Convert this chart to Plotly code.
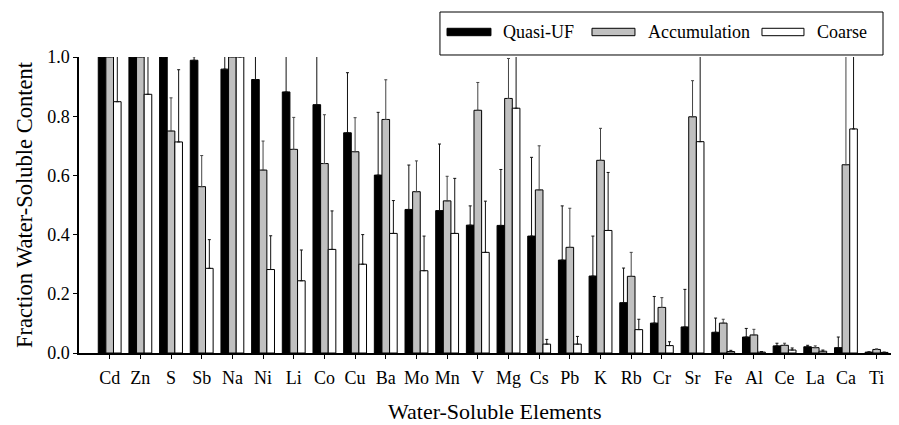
import plotly.graph_objects as go

elements = ["Cd", "Zn", "S", "Sb", "Na", "Ni", "Li", "Co", "Cu", "Ba", "Mo", "Mn", "V",
            "Mg", "Cs", "Pb", "K", "Rb", "Cr", "Sr", "Fe", "Al", "Ce", "La", "Ca", "Ti"]

quasi_uf = [1.00, 1.00, 1.00, 0.989, 0.959, 0.924, 0.882, 0.839, 0.744, 0.601, 0.485, 0.481, 0.432,
            0.431, 0.395, 0.314, 0.260, 0.170, 0.101, 0.088, 0.070, 0.054, 0.024, 0.021, 0.018, 0.003]
quasi_uf_err = [0.10, 0.10, 0.10, 0.012, 0.10, 0.10, 0.20, 0.20, 0.203, 0.212, 0.150, 0.225, 0.065,
                0.189, 0.266, 0.183, 0.135, 0.117, 0.090, 0.127, 0.048, 0.029, 0.009, 0.005, 0.036, 0.001]

accumulation = [1.00, 1.00, 0.750, 0.562, 1.00, 0.618, 0.688, 0.640, 0.680, 0.789, 0.545, 0.514, 0.820,
                0.860, 0.551, 0.357, 0.651, 0.259, 0.154, 0.798, 0.101, 0.061, 0.026, 0.018, 0.636, 0.012]
accumulation_err = [0.10, 0.10, 0.112, 0.105, 0.10, 0.098, 0.108, 0.165, 0.115, 0.134, 0.104, 0.083, 0.094,
                    0.135, 0.149, 0.132, 0.108, 0.081, 0.033, 0.122, 0.013, 0.019, 0.007, 0.006, 0.40, 0.002]

coarse = [0.849, 0.874, 0.713, 0.286, 1.00, 0.282, 0.244, 0.350, 0.300, 0.404, 0.278, 0.404, 0.340,
          0.827, 0.030, 0.030, 0.414, 0.079, 0.025, 0.714, 0.005, 0.003, 0.010, 0.006, 0.757, 0.002]
coarse_err = [0.30, 0.30, 0.244, 0.097, 0.10, 0.114, 0.104, 0.130, 0.100, 0.111, 0.117, 0.186, 0.173,
              0.30, 0.016, 0.026, 0.196, 0.035, 0.013, 0.40, 0.004, 0.002, 0.007, 0.004, 0.40, 0.001]

series_names = ["Quasi-UF", "Accumulation", "Coarse"]
series_values = [quasi_uf, accumulation, coarse]
series_errors = [quasi_uf_err, accumulation_err, coarse_err]
series_colors = ["#000000", "#c0c0c0", "#ffffff"]
error_colors = ["#111111", "#444444", "#111111"]

x_title = "Water-Soluble Elements"
y_title = "Fraction Water-Soluble Content"

FONT = "Liberation Serif"

fig = go.Figure()
for name, vals, errs, color, ecolor in zip(series_names, series_values, series_errors,
                                           series_colors, error_colors):
    fig.add_trace(go.Bar(
        name=name, x=elements, y=vals, showlegend=False,
        marker=dict(color=color, line=dict(color="#000000", width=1)),
        error_y=dict(type="data", array=errs, symmetric=False, arrayminus=[0] * len(errs),
                     color=ecolor, thickness=1, width=1.5),
    ))

# Legend drawn as a boxed row of wide swatches (paper coordinates)
shapes = [dict(type="rect", xref="paper", yref="paper", x0=0.4402, x1=0.9805, y0=1.0068, y1=1.152,
               line=dict(color="#000000", width=1), fillcolor="white", layer="above")]
annotations = []
swatch_x = [(0.4488, 0.5024), (0.6256, 0.6780), (0.8329, 0.8841)]
text_x = [0.5146, 0.6915, 0.8976]
for name, color, (sx0, sx1), tx in zip(series_names, series_colors, swatch_x, text_x):
    shapes.append(dict(type="rect", xref="paper", yref="paper", x0=sx0, x1=sx1, y0=1.072, y1=1.097,
                       line=dict(color="#000000", width=1), fillcolor=color, layer="above"))
    annotations.append(dict(text=name, xref="paper", yref="paper", x=tx, y=1.0845,
                            xanchor="left", yanchor="middle", showarrow=False,
                            font=dict(family=FONT, size=18, color="#000000")))

# Axis titles
annotations.append(dict(text=x_title, xref="paper", yref="paper", x=0.5067, y=-0.1993,
                        xanchor="center", yanchor="middle", showarrow=False,
                        font=dict(family=FONT, size=22, color="#000000")))
annotations.append(dict(text=y_title, xref="paper", yref="paper", x=-0.067, y=0.5,
                        xanchor="center", yanchor="middle", showarrow=False, textangle=-90,
                        font=dict(family=FONT, size=22.5, color="#000000")))

fig.update_layout(
    template="none",
    width=891, height=417,
    margin=dict(l=71, r=0, t=49, b=72),
    paper_bgcolor="white", plot_bgcolor="white",
    barmode="group", bargap=0.255, bargroupgap=0,
    font=dict(family=FONT, size=18, color="#000000"),
    showlegend=False,
    shapes=shapes, annotations=annotations,
)
fig.update_xaxes(
    type="category", range=[-1.0, 25.73], showline=True, linecolor="#000000", linewidth=1.5,
    ticks="outside", ticklen=4, tickcolor="#000000", showgrid=False, zeroline=False,
    automargin=False, tickfont=dict(family=FONT, size=18), ticklabelstandoff=4,
)
fig.update_yaxes(
    range=[0, 1.0], tickvals=[0, 0.2, 0.4, 0.6, 0.8, 1.0],
    ticktext=["0.0", "0.2", "0.4", "0.6", "0.8", "1.0"],
    showline=True, linecolor="#000000", linewidth=1.5,
    ticks="outside", ticklen=4, tickcolor="#000000", showgrid=False, zeroline=False,
    automargin=False, tickfont=dict(family=FONT, size=18),
)

fig.write_html("out.html")
